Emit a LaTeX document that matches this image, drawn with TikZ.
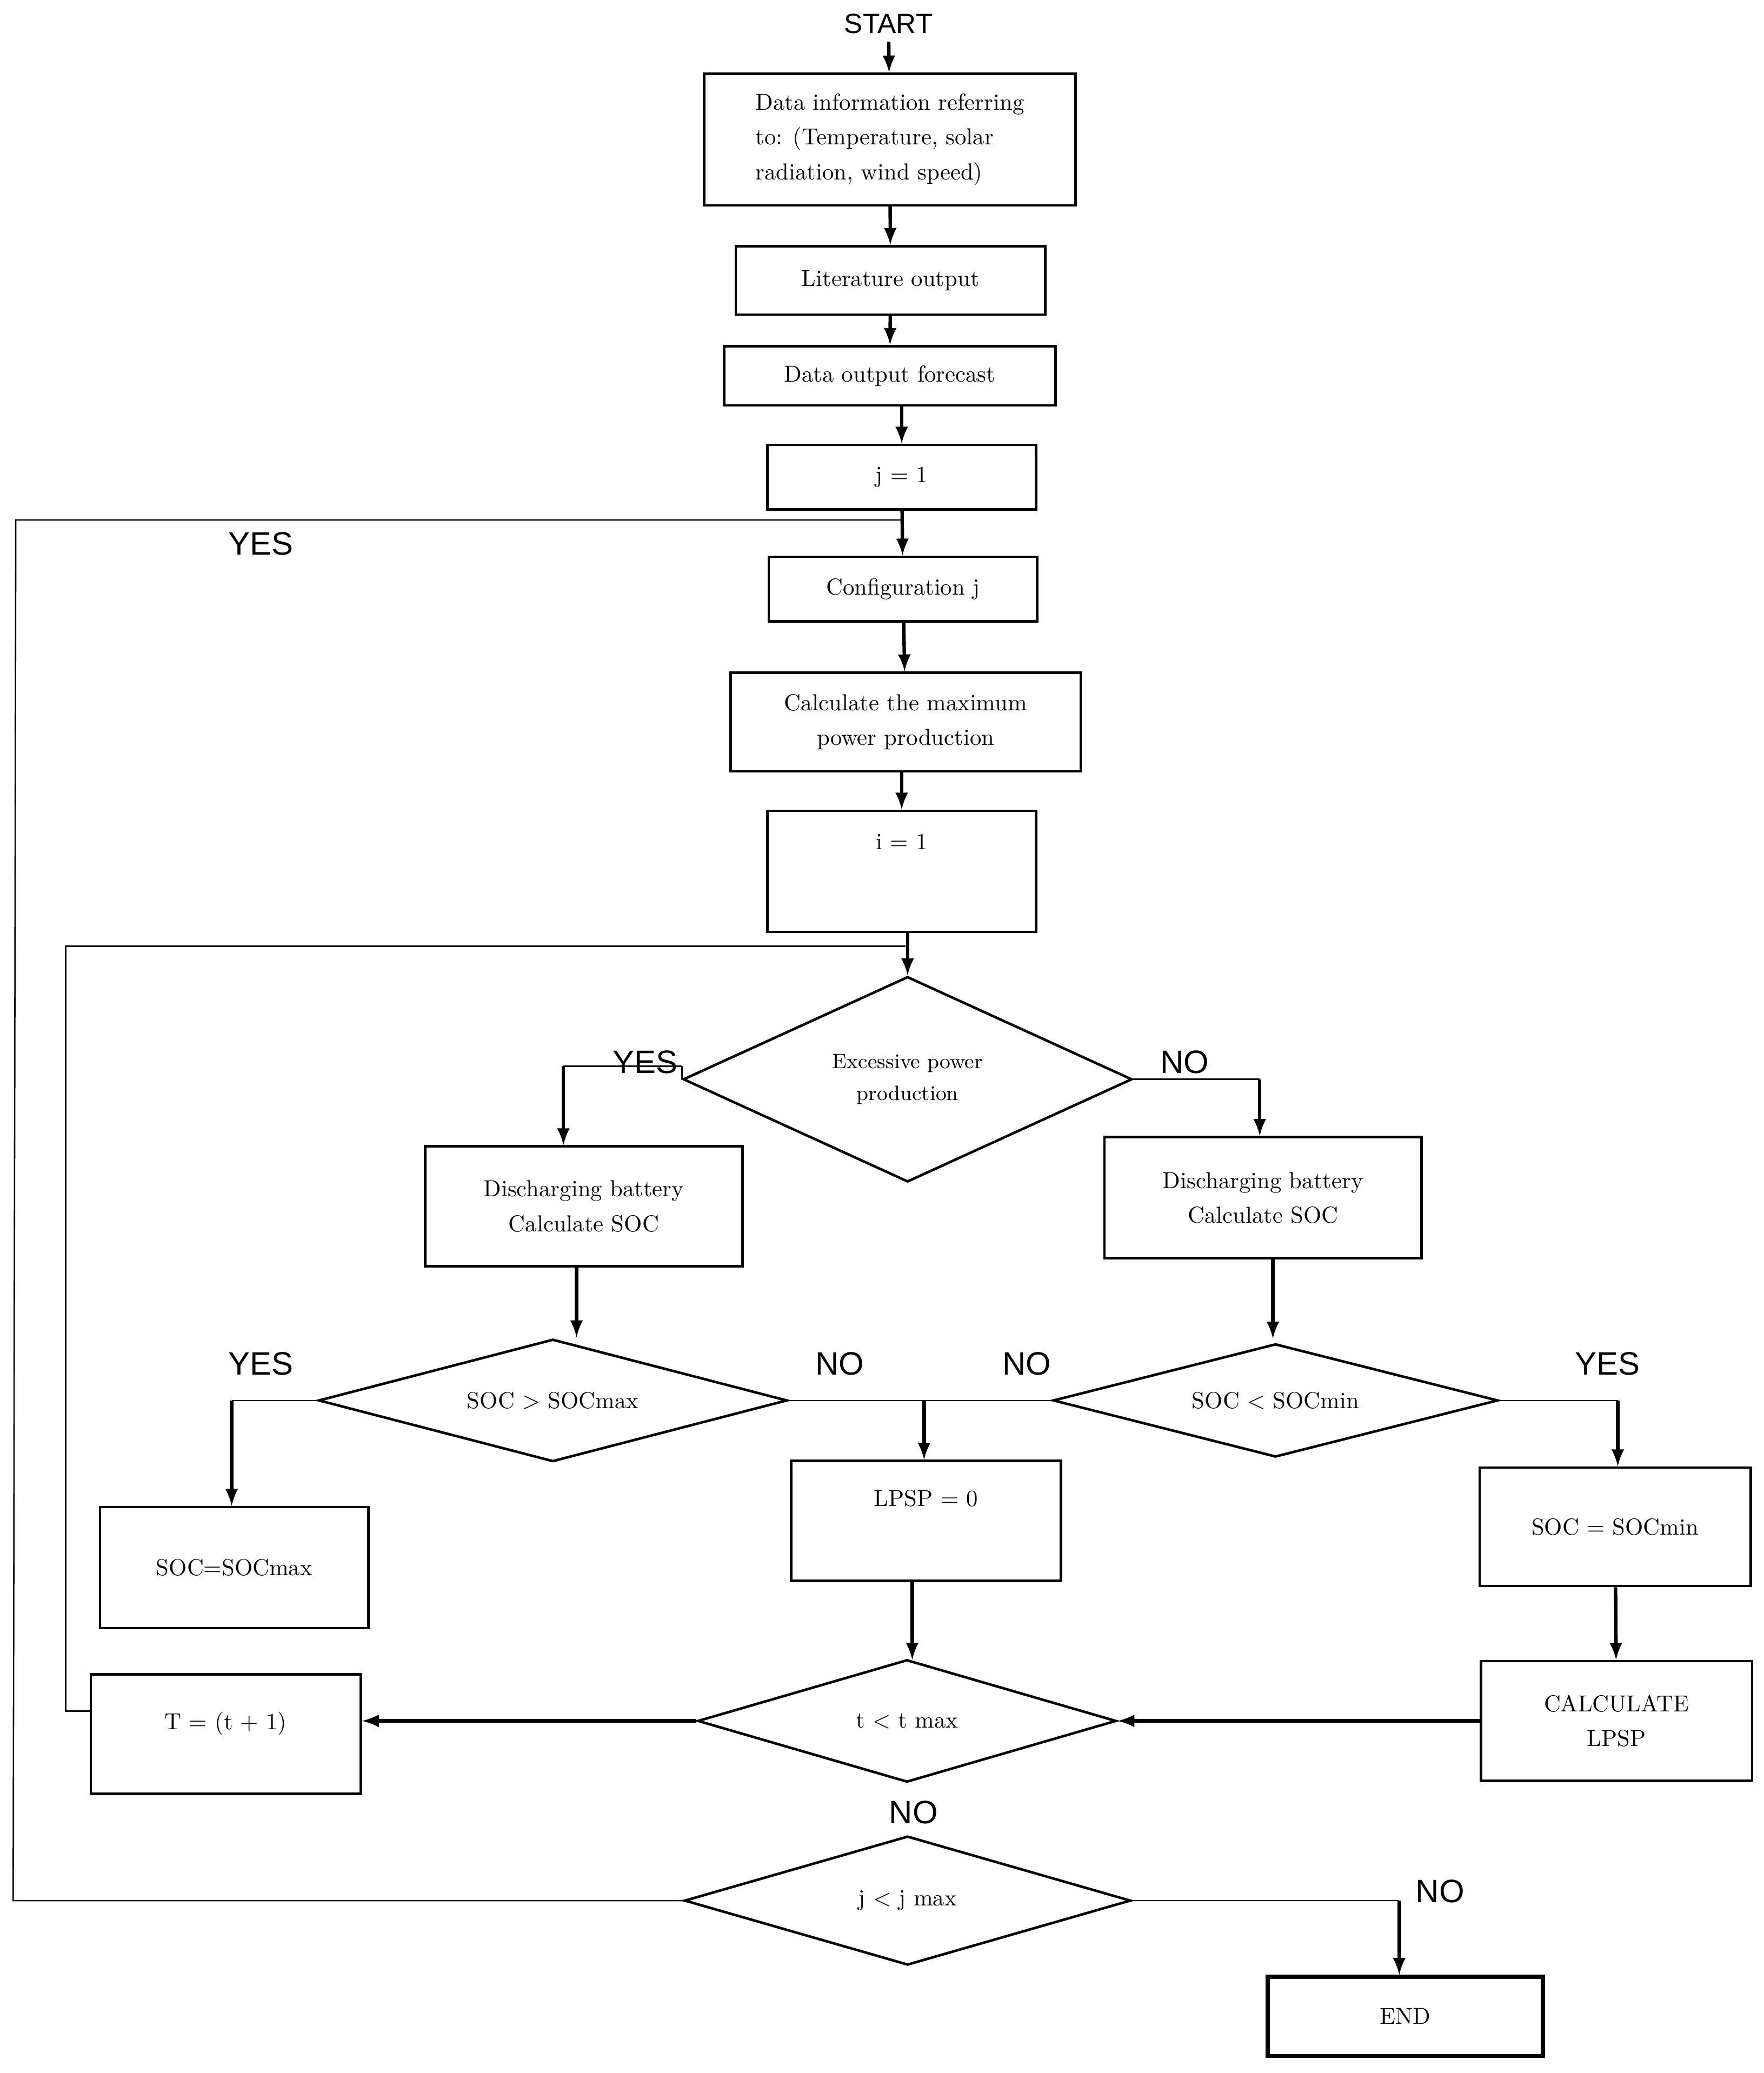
\documentclass[tikz,border=0pt]{standalone}
\usepackage{fontspec}
\newfontfamily\lab{Liberation Sans}
\usetikzlibrary{shapes.geometric,arrows}
\begin{document}
\begin{tikzpicture}[x=0.2mm,y=-0.2mm,
  box/.style={draw,line width=1.1pt,align=center,font=\fontsize{10}{15}\selectfont,inner sep=2pt},
  dia/.style={draw,diamond,line width=1.1pt,align=center,font=\fontsize{9}{14}\selectfont,inner sep=0pt,aspect=3.5},
  lbl/.style={font=\lab\fontsize{14}{16}\selectfont},
  arr/.style={-latex,line width=1.5pt},
  ln/.style={line width=0.6pt}]
\useasboundingbox (0,0) rectangle (1340,1575);
\node[lbl,font=\lab\fontsize{12}{14}\selectfont] (start) at (675,18) {START};
\node[box,align=left,minimum width=56.4mm,minimum height=20mm] (data) at (676,106) {Data information referring\\to: (Temperature, solar\\radiation, wind speed)};
\node[box,minimum width=47mm,minimum height=10.4mm] (lit) at (676.5,213) {Literature output};
\node[box,minimum width=50.4mm,minimum height=9mm] (fc) at (676,285.5) {Data output forecast};
\node[box,minimum width=40.8mm,minimum height=9.8mm] (j1) at (685,362.5) {j = 1};
\node[box,minimum width=40.8mm,minimum height=9.8mm] (cfg) at (686,447.5) {Configuration j};
\node[box,minimum width=53.2mm,minimum height=15mm] (cmax) at (688,548.5) {Calculate the maximum\\power production};
\node[box,minimum width=40.8mm,minimum height=18.4mm,text depth=9mm] (i1) at (685,662) {i = 1};
\node[dia,minimum width=68.2mm,minimum height=31.2mm] (exc) at (689.5,820) {Excessive power\\production};
\node[box,minimum width=48.2mm,minimum height=18.2mm] (disl) at (443.5,916.5) {Discharging battery\\Calculate SOC};
\node[box,minimum width=48.2mm,minimum height=18.4mm] (disr) at (959.5,910) {Discharging battery\\Calculate SOC};
\node[dia,minimum width=71.2mm,minimum height=18.6mm,font=\fontsize{10}{12}\selectfont] (smax) at (420,1064) {SOC $>$ SOCmax};
\node[dia,minimum width=67.6mm,minimum height=17.2mm,font=\fontsize{10}{12}\selectfont] (smin) at (969,1064) {SOC $<$ SOCmin};
\node[box,minimum width=40.8mm,minimum height=18.4mm] (bmax) at (178,1191) {SOC=SOCmax};
\node[box,minimum width=41mm,minimum height=18.2mm,text depth=7mm] (lp0) at (703.5,1155.5) {LPSP = 0};
\node[box,minimum width=41.2mm,minimum height=18mm] (bmin) at (1227,1160) {SOC = SOCmin};
\node[box,minimum width=41.2mm,minimum height=18.2mm] (clp) at (1228,1307.5) {CALCULATE\\LPSP};
\node[dia,minimum width=63.6mm,minimum height=18.6mm,font=\fontsize{10}{12}\selectfont] (tmax) at (689,1307.5) {t $<$ t max};
\node[box,minimum width=41mm,minimum height=18.2mm,text depth=4mm] (tt) at (171.5,1317.5) {T = (t + 1)};
\node[dia,minimum width=67.8mm,minimum height=19.6mm,font=\fontsize{10}{12}\selectfont] (jmax) at (689.5,1444) {j $<$ j max};
\node[box,line width=1.8pt,minimum width=41.8mm,minimum height=12mm] (end) at (1067.5,1532) {END};
% labels
\node[lbl] (y1) at (198,413) {YES};
\node[lbl] (y2) at (490,807) {YES};
\node[lbl] (n1) at (900,807) {NO};
\node[lbl] (y3) at (198,1036) {YES};
\node[lbl] (n2) at (638,1036) {NO};
\node[lbl] (n3) at (780,1036) {NO};
\node[lbl] (y4) at (1221,1036) {YES};
\node[lbl] (n4) at (694,1377) {NO};
\node[lbl] (n5) at (1094,1437) {NO};
% main chain
\draw[arr] (start) -- (data);
\draw[arr] (data) -- (lit);
\draw[arr] (lit) -- (fc);
\draw[arr] (fc.south -| j1) -- (j1);
\draw[arr] (j1) -- (cfg);
\draw[arr] (cfg) -- (cmax);
\draw[arr] (cmax.south -| i1) -- (i1);
\draw[arr] (i1.south -| exc) -- (exc);
% loops
\coordinate (la) at (12,395);
\coordinate (lb) at (10,1444);
\draw[ln] (jmax.west) -- (lb) -- (la) -- (686,395);
\coordinate (lc) at (50,1300);
\coordinate (ld) at (50,719);
\draw[ln] (tt.west |- lc) -- (lc) -- (ld) -- (688,719);
% branches
\coordinate (e1) at (428,810);
\draw[ln] (exc.west) -- (e1 -| exc.west);
\draw[ln] (exc.west |- e1) -- (e1);
\draw[arr] (e1) -- (disl.north -| e1);
\coordinate (e2) at (957,820);
\draw[ln] (exc.east) -- (e2);
\draw[arr] (e2) -- (disr.north -| e2);
\draw[arr] (disl.south -| 438,0) -- (438,1016);
\draw[arr] (disr.south -| 967,0) -- (967,1017);
\coordinate (s1) at (176,1064);
\draw[ln] (smax.west) -- (s1);
\draw[arr] (s1) -- (bmax.north -| s1);
\coordinate (s2) at (702,1064);
\draw[ln] (smax.east) -- (s2) -- (smin.west);
\draw[arr] (s2) -- (lp0.north -| s2);
\coordinate (s3) at (1229,1064);
\draw[ln] (smin.east) -- (s3);
\draw[arr] (s3) -- (bmin.north -| s3);
\draw[arr] (lp0.south -| 693,0) -- (693,1261);
\draw[arr] (bmin) -- (clp);
\draw[arr] (clp.west |- tmax.east) -- (tmax.east);
\draw[arr] (tmax.west) -- (tt.east |- tmax.west);
\coordinate (s4) at (1063,1444);
\draw[ln] (jmax.east) -- (s4);
\draw[arr] (s4) -- (end.north -| s4);
\end{tikzpicture}
\end{document}
